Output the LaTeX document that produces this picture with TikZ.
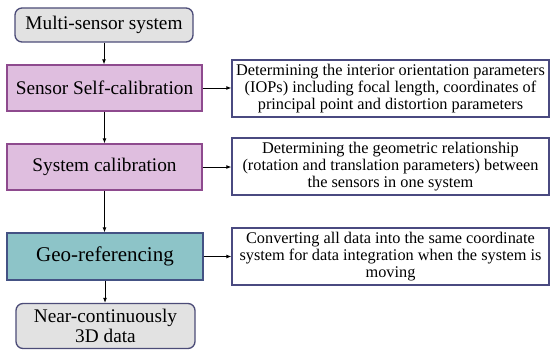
\documentclass[tikz,border=0pt]{standalone}
\usepackage{fontspec}
\setmainfont{Liberation Serif}
\usetikzlibrary{arrows.meta}
\definecolor{grayfill}{HTML}{E2E2E2}
\definecolor{grayline}{HTML}{4C4C78}
\definecolor{purfill}{HTML}{DFBEDF}
\definecolor{purline}{HTML}{8E4A8E}
\definecolor{tealfill}{HTML}{8DC4C8}
\definecolor{tealline}{HTML}{445284}
\definecolor{boxline}{HTML}{4A4A80}
\begin{document}
\begin{tikzpicture}[x=1pt,y=-1pt,
  flowbox/.style={draw, line width=1.3pt, inner sep=2pt, align=center, font=\fontsize{19.3}{20}\selectfont},
  endbox/.style={flowbox, rounded corners=7pt, fill=grayfill, draw=grayline},
  purbox/.style={flowbox, fill=purfill, draw=purline, minimum width=195pt, minimum height=46pt},
  tealbox/.style={flowbox, fill=tealfill, draw=tealline, minimum width=196pt, minimum height=47pt},
  descbox/.style={draw=boxline, line width=1.3pt, fill=white, align=center, inner sep=2pt,
     minimum width=317pt, minimum height=57pt, font=\fontsize{16.3}{16.8}\selectfont},
  conn/.style={-{Latex[length=5pt,width=4pt]}, line width=0.9pt, black}]
\useasboundingbox[fill=white] (0,0) rectangle (551,350);
\node[endbox, minimum width=178pt, minimum height=34pt] (multi) at (104,25) {Multi-sensor system};
\node[purbox] (self) at (104.5,88) {Sensor Self-calibration};
\node[purbox] (sys) at (104.5,167) {System calibration};
\node[tealbox, font=\fontsize{21}{22}\selectfont] (geo) at (105,256.5) {Geo-referencing};
\node[endbox, minimum width=179pt, minimum height=45pt, font=\fontsize{19.3}{19.5}\selectfont] (near) at (105.5,326) {Near-continuously\\3D data};
\node[descbox] (d1) at (390.5,88.5) {Determining the interior orientation parameters\\(IOPs) including focal length, coordinates of\\principal point and distortion parameters};
\node[descbox] (d2) at (390.5,166.5) {Determining the geometric relationship\\(rotation and translation parameters) between\\the sensors in one system};
\node[descbox] (d3) at (390.5,256.5) {Converting all data into the same coordinate\\system for data integration when the system is\\moving};
\draw[conn] (multi.south) -- (multi.south |- self.north);
\draw[conn] (self.south) -- (sys.north);
\draw[conn] (sys.south) -- (sys.south |- geo.north);
\draw[conn] (geo.south) -- (geo.south |- near.north);
\draw[conn] (self.east) -- (self.east -| d1.west);
\draw[conn] (sys.east) -- (sys.east -| d2.west);
\draw[conn] (geo.east) -- (geo.east -| d3.west);
\end{tikzpicture}
\end{document}
